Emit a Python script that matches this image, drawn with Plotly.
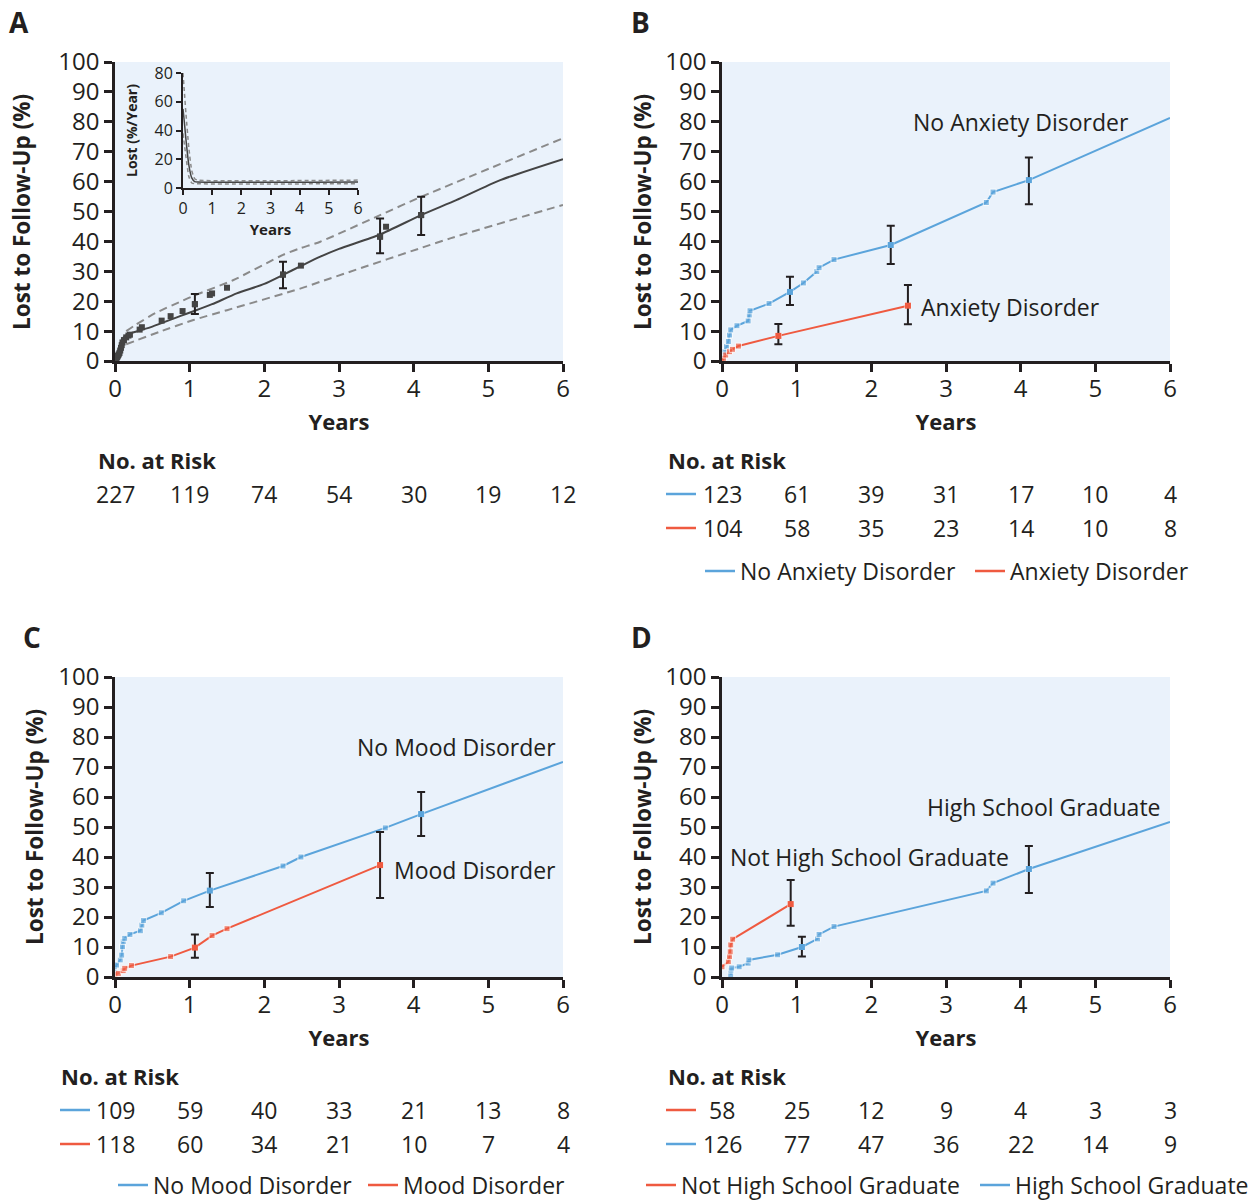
import plotly.graph_objects as go

# ---------------- DATA ----------------
years = [0, 1, 2, 3, 4, 5, 6]

# Panel A – overall cohort
a_fit_t = [0, 0.05, 0.1, 0.15, 0.25, 0.5, 0.87, 1.07, 1.3, 1.63, 2.0, 2.25, 2.5, 2.75, 3.0, 3.55, 4.1, 4.57, 5.16, 6.0]
a_fit_v = [0, 4.0, 7.5, 8.6, 9.6, 11.5, 15.0, 16.8, 19.0, 22.6, 25.8, 28.8, 31.9, 34.9, 37.5, 42.3, 48.8, 53.8, 60.5, 67.5]
a_up_t = [0.15, 0.27, 0.54, 0.87, 1.07, 1.58, 2.25, 2.48, 2.75, 3.55, 4.1, 6.0]
a_up_v = [10.0, 12.0, 16.0, 19.8, 22.0, 27.0, 35.5, 37.7, 39.9, 48.8, 54.9, 74.5]
a_lo_t = [0.15, 0.6, 1.05, 1.5, 2.48, 2.75, 4.49, 6.0]
a_lo_v = [5.6, 9.8, 13.7, 17.0, 24.2, 26.5, 41.0, 52.2]
a_km_t = [0.01, 0.02, 0.03, 0.04, 0.05, 0.06, 0.07, 0.08, 0.09, 0.1, 0.12, 0.15, 0.18, 0.2, 0.33, 0.36,
          0.625, 0.745, 0.905, 1.07, 1.27, 1.3, 1.5, 2.25, 2.49, 3.55, 3.63, 4.1]
a_km_v = [0.4, 0.9, 1.3, 1.8, 2.2, 2.7, 3.5, 4.4, 5.3, 6.2, 7.0, 7.9, 8.5, 8.8, 10.5, 11.3,
          13.5, 15.0, 16.7, 19.0, 22.1, 22.6, 24.5, 28.9, 31.9, 41.6, 44.9, 48.8]
a_err_t = [1.07, 2.25, 3.55, 4.1]
a_err_v = [19.0, 28.9, 41.6, 48.8]
a_err_hi = [22.4, 33.2, 47.7, 54.9]
a_err_lo = [15.7, 24.3, 36.0, 42.1]
a_risk = [227, 119, 74, 54, 30, 19, 12]

# Inset – hazard (%/year)
in_t = [0, 0.05, 0.1, 0.2, 0.3, 0.4, 0.5, 6.0]
in_fit = [55, 45, 34, 16, 7, 4.5, 4.2, 4.2]
in_up = [80, 66, 52, 28, 12, 6.5, 5.5, 5.5]
in_lo = [38, 30, 22, 8, 3.5, 3.0, 2.9, 2.9]

# Panel B – anxiety disorder
b_no_t = [0, 0.02, 0.04, 0.06, 0.085, 0.1, 0.117, 0.2, 0.35, 0.365, 0.375, 0.63, 0.91, 1.09, 1.27, 1.30, 1.50, 2.26, 3.54, 3.63, 4.11, 6.0]
b_no_v = [0, 1.4, 3.1, 4.8, 6.5, 8.7, 10.4, 11.8, 13.4, 15.4, 16.8, 19.2, 23.1, 26.1, 29.9, 31.2, 33.9, 38.8, 53.0, 56.5, 60.5, 81.3]
b_no_err_t = [0.91, 2.26, 4.11]
b_no_err_v = [23.1, 38.8, 60.5]
b_no_err_hi = [28.2, 45.2, 68.1]
b_no_err_lo = [18.7, 32.4, 52.4]
b_anx_t = [0, 0.02, 0.05, 0.1, 0.14, 0.22, 0.755, 2.49]
b_anx_v = [0, 0.9, 2.0, 3.1, 3.9, 5.0, 8.4, 18.5]
b_anx_err_t = [0.755, 2.49]
b_anx_err_v = [8.4, 18.5]
b_anx_err_hi = [12.4, 25.4]
b_anx_err_lo = [5.6, 12.3]
b_risk_no = [123, 61, 39, 31, 17, 10, 4]
b_risk_anx = [104, 58, 35, 23, 14, 10, 8]

# Panel C – mood disorder
c_no_t = [0, 0.02, 0.07, 0.09, 0.1, 0.11, 0.13, 0.2, 0.34, 0.36, 0.38, 0.62, 0.92, 1.27, 2.25, 2.49, 3.62, 4.1, 6.0]
c_no_v = [1.5, 4.0, 5.7, 7.3, 10.1, 11.8, 12.9, 14.2, 15.4, 17.3, 18.8, 21.4, 25.4, 28.8, 37.0, 40.0, 49.7, 54.3, 71.7]
c_no_err_t = [1.27, 4.1]
c_no_err_v = [28.8, 54.3]
c_no_err_hi = [34.7, 61.7]
c_no_err_lo = [23.3, 47.0]
c_mood_t = [0, 0.045, 0.11, 0.13, 0.22, 0.745, 1.07, 1.30, 1.50, 3.55]
c_mood_v = [0.9, 1.2, 2.1, 2.9, 3.8, 6.8, 9.8, 13.8, 16.1, 37.3]
c_mood_err_t = [1.07, 3.55]
c_mood_err_v = [9.8, 37.3]
c_mood_err_hi = [14.2, 48.3]
c_mood_err_lo = [6.4, 26.3]
c_risk_no = [109, 59, 40, 33, 21, 13, 8]
c_risk_mood = [118, 60, 34, 21, 10, 7, 4]

# Panel D – education
d_not_t = [0, 0.085, 0.1, 0.11, 0.117, 0.143, 0.92]
d_not_v = [3.4, 5.1, 6.8, 8.4, 10.7, 12.6, 24.3]
d_not_err_t = [0.92]
d_not_err_v = [24.3]
d_not_err_hi = [32.3]
d_not_err_lo = [17.1]
d_hs_t = [0.117, 0.12, 0.13, 0.23, 0.35, 0.36, 0.745, 1.07, 1.28, 1.30, 1.50, 3.54, 3.63, 4.11, 6.0]
d_hs_v = [0.7, 2.3, 3.0, 3.4, 4.6, 5.7, 7.4, 10.0, 12.7, 14.2, 16.8, 28.7, 31.3, 36.0, 51.7]
d_hs_err_t = [1.07, 4.11]
d_hs_err_v = [10.0, 36.0]
d_hs_err_hi = [13.4, 43.7]
d_hs_err_lo = [6.8, 28.0]
d_risk_not = [58, 25, 12, 9, 4, 3, 3]
d_risk_hs = [126, 77, 47, 36, 22, 14, 9]

# ---------------- STYLE ----------------
W, H = 1259, 1201
FONT = "Open Sans"
INK = "#231f20"
BLUE = "#5ba4db"
RED = "#ef5a40"
DARK = "#444444"
GREY = "#8a8a8a"
BG = "#eaf2fb"


def px(x):
    return x / W


def py(y):
    return 1 - y / H


fig = go.Figure()


def series(t, v, color, xa, ya, last_marker=True):
    sizes = [6] * len(t)
    if not last_marker:
        sizes[-1] = 0
    fig.add_trace(go.Scatter(
        x=t, y=v, mode="lines+markers", xaxis=xa, yaxis=ya, showlegend=False,
        line=dict(color=color, width=2),
        marker=dict(symbol="square", size=sizes, color=color),
        cliponaxis=False, hoverinfo="skip"))


def errs(t, v, hi, lo, color, xa, ya):
    fig.add_trace(go.Scatter(
        x=t, y=v, mode="markers", xaxis=xa, yaxis=ya, showlegend=False,
        marker=dict(symbol="square", size=6, color=color),
        error_y=dict(type="data", symmetric=False,
                     array=[h - c for h, c in zip(hi, v)],
                     arrayminus=[c - l for c, l in zip(v, lo)],
                     color=INK, thickness=2, width=4),
        cliponaxis=False, hoverinfo="skip"))


# Panel A
for tt, vv in ((a_up_t, a_up_v), (a_lo_t, a_lo_v)):
    fig.add_trace(go.Scatter(x=tt, y=vv, mode="lines", xaxis="x", yaxis="y", showlegend=False,
                             line=dict(color=GREY, width=2, dash="8px,5px", shape="spline", smoothing=0.6),
                             hoverinfo="skip"))
fig.add_trace(go.Scatter(x=a_fit_t, y=a_fit_v, mode="lines", xaxis="x", yaxis="y", showlegend=False,
                         line=dict(color=DARK, width=2, shape="spline", smoothing=0.6), hoverinfo="skip"))
fig.add_trace(go.Scatter(x=a_km_t, y=a_km_v, mode="markers", xaxis="x", yaxis="y", showlegend=False,
                         marker=dict(symbol="square", size=6, color=DARK), cliponaxis=False, hoverinfo="skip"))
errs(a_err_t, a_err_v, a_err_hi, a_err_lo, DARK, "x", "y")

# Inset
for vv, dsh, col in ((in_up, "4px,3px", GREY), (in_lo, "4px,3px", GREY), (in_fit, "solid", DARK)):
    fig.add_trace(go.Scatter(x=in_t, y=vv, mode="lines", xaxis="x2", yaxis="y2", showlegend=False,
                             line=dict(color=col, width=1.5, dash=dsh, shape="spline", smoothing=0.5),
                             hoverinfo="skip"))

# Panel B
series(b_no_t, b_no_v, BLUE, "x3", "y3", last_marker=False)
series(b_anx_t, b_anx_v, RED, "x3", "y3")
errs(b_no_err_t, b_no_err_v, b_no_err_hi, b_no_err_lo, BLUE, "x3", "y3")
errs(b_anx_err_t, b_anx_err_v, b_anx_err_hi, b_anx_err_lo, RED, "x3", "y3")

# Panel C
series(c_no_t, c_no_v, BLUE, "x4", "y4", last_marker=False)
series(c_mood_t, c_mood_v, RED, "x4", "y4")
errs(c_no_err_t, c_no_err_v, c_no_err_hi, c_no_err_lo, BLUE, "x4", "y4")
errs(c_mood_err_t, c_mood_err_v, c_mood_err_hi, c_mood_err_lo, RED, "x4", "y4")

# Panel D
series(d_not_t, d_not_v, RED, "x5", "y5")
series(d_hs_t, d_hs_v, BLUE, "x5", "y5", last_marker=False)
errs(d_not_err_t, d_not_err_v, d_not_err_hi, d_not_err_lo, RED, "x5", "y5")
errs(d_hs_err_t, d_hs_err_v, d_hs_err_hi, d_hs_err_lo, BLUE, "x5", "y5")

# Legend keys: one legend per entry so each can be placed like the original
legend_items = [
    ("No Anxiety Disorder", BLUE, 700, 571), ("Anxiety Disorder", RED, 970, 571),
    ("No Mood Disorder", BLUE, 113, 1185), ("Mood Disorder", RED, 363, 1185),
    ("Not High School Graduate", RED, 641, 1185), ("High School Graduate", BLUE, 975, 1185),
]
legend_layouts = {}
for i, (name, col, lx, ly) in enumerate(legend_items):
    lg = "legend" if i == 0 else f"legend{i + 1}"
    fig.add_trace(go.Scatter(x=[None], y=[None], mode="lines", name=name, legend=lg,
                             line=dict(color=col, width=2.5), xaxis="x3", yaxis="y3", showlegend=True))
    legend_layouts[lg] = dict(orientation="h", xanchor="left", yanchor="middle", x=px(lx), y=py(ly),
                              bgcolor="rgba(0,0,0,0)", borderwidth=0,
                              font=dict(family=FONT, size=23, color=INK), itemwidth=30,
                              itemclick=False, itemdoubleclick=False)

# ---------------- AXES ----------------
main_x = dict(range=[0, 6], dtick=1, tick0=0, showline=True, linecolor=INK, linewidth=2.5,
              ticks="outside", ticklen=8, tickwidth=2.5, tickcolor=INK, showgrid=False, zeroline=False,
              tickfont=dict(family=FONT, size=24, color=INK), ticklabelstandoff=-4, automargin=False,
              title=dict(text="<b>Years</b>", font=dict(family=FONT, size=22, color=INK), standoff=13))
main_y = dict(range=[0, 100], dtick=10, tick0=0, showline=True, linecolor=INK, linewidth=2.5,
              ticks="outside", ticklen=8, tickwidth=2.5, tickcolor=INK, showgrid=False, zeroline=False,
              tickfont=dict(family=FONT, size=24, color=INK), ticklabelstandoff=0, automargin=False)

xA = (px(115), px(563))
xB = (px(722), px(1170))
yTop = (py(361), py(62))
yBot = (py(977), py(677))

layout = dict(
    width=W, height=H, margin=dict(l=0, r=0, t=0, b=0, pad=0, autoexpand=False),
    paper_bgcolor="white", plot_bgcolor=BG,
    font=dict(family=FONT, color=INK),
    xaxis=dict(main_x, domain=xA, anchor="y"),
    yaxis=dict(main_y, domain=yTop, anchor="x"),
    xaxis3=dict(main_x, domain=xB, anchor="y3"),
    yaxis3=dict(main_y, domain=yTop, anchor="x3"),
    xaxis4=dict(main_x, domain=xA, anchor="y4"),
    yaxis4=dict(main_y, domain=yBot, anchor="x4"),
    xaxis5=dict(main_x, domain=xB, anchor="y5"),
    yaxis5=dict(main_y, domain=yBot, anchor="x5"),
    xaxis2=dict(range=[0, 6], dtick=1, showline=True, linecolor=INK, linewidth=2, ticks="outside",
                ticklen=5, tickwidth=2, tickcolor=INK, showgrid=False, zeroline=False, automargin=False,
                tickfont=dict(family=FONT, size=16, color=INK), domain=(px(183), px(358)), anchor="y2",
                title=dict(text="<b>Years</b>", font=dict(family=FONT, size=15, color=INK), standoff=4)),
    yaxis2=dict(range=[0, 80], dtick=20, showline=True, linecolor=INK, linewidth=2, ticks="outside",
                ticklen=5, tickwidth=2, tickcolor=INK, showgrid=False, zeroline=False, automargin=False,
                tickfont=dict(family=FONT, size=16, color=INK), domain=(py(188), py(73)), anchor="x2",
                title=dict(text="<b>Lost (%/Year)</b>", font=dict(family=FONT, size=14, color=INK), standoff=14)),
)
layout.update(legend_layouts)
fig.update_layout(**layout)

# ---------------- ANNOTATIONS ----------------
ann = []
for letter, x, y in (("A", 19, 22), ("B", 640, 22), ("C", 32, 637), ("D", 641, 637)):
    ann.append(dict(text=f"<b>{letter}</b>", x=px(x), y=py(y), xref="paper", yref="paper",
                    xanchor="center", yanchor="middle", showarrow=False,
                    font=dict(family=FONT, size=28, color=INK)))
for x, y in ((22, 212), (643, 212), (35, 827), (643, 827)):
    ann.append(dict(text="<b>Lost to Follow-Up (%)</b>", x=px(x), y=py(y), xref="paper", yref="paper",
                    xanchor="center", yanchor="middle", textangle=-90, showarrow=False,
                    font=dict(family=FONT, size=22.5, color=INK)))
for x, y in ((96, 460), (666, 460), (59, 1076), (666, 1076)):
    ann.append(dict(text="<b>No. at Risk</b>", x=px(x), y=py(y), xref="paper", yref="paper",
                    xanchor="left", yanchor="middle", showarrow=False,
                    font=dict(family=FONT, size=22, color=INK)))
risk_rows = [("x", a_risk, 494), ("x3", b_risk_no, 494), ("x3", b_risk_anx, 528),
             ("x4", c_risk_no, 1110), ("x4", c_risk_mood, 1144),
             ("x5", d_risk_not, 1110), ("x5", d_risk_hs, 1144)]
for xr, vals, y in risk_rows:
    for yr, n in zip(years, vals):
        ann.append(dict(text=str(n), x=yr, y=py(y), xref=xr, yref="paper", showarrow=False,
                        xanchor="center", yanchor="middle",
                        font=dict(family=FONT, size=23, color=INK)))
labels = [("No Anxiety Disorder", "x3", "y3", 4.0, 80, "center"),
          ("Anxiety Disorder", "x3", "y3", 2.64, 18, "left"),
          ("No Mood Disorder", "x4", "y4", 4.58, 76.7, "center"),
          ("Mood Disorder", "x4", "y4", 3.71, 35.7, "left"),
          ("High School Graduate", "x5", "y5", 4.31, 56.7, "center"),
          ("Not High School Graduate", "x5", "y5", 1.98, 40, "center")]
for txt, xr, yr, x, y, anc in labels:
    ann.append(dict(text=txt, x=x, y=y, xref=xr, yref=yr, xanchor=anc, yanchor="middle", showarrow=False,
                    font=dict(family=FONT, size=23, color=INK)))
fig.update_layout(annotations=ann)

# colour keys in the No. at Risk tables
shapes = []
for x0, y, col in ((666, 494, BLUE), (666, 528, RED), (60, 1110, BLUE), (60, 1144, RED),
                   (666, 1110, RED), (666, 1144, BLUE)):
    shapes.append(dict(type="line", xref="paper", yref="paper", x0=px(x0), x1=px(x0 + 30),
                       y0=py(y), y1=py(y), line=dict(color=col, width=2.5)))
fig.update_layout(shapes=shapes)

fig.write_html("out.html", config={"displayModeBar": False},
               post_script="document.body.style.margin='0';document.body.style.overflow='hidden';")
